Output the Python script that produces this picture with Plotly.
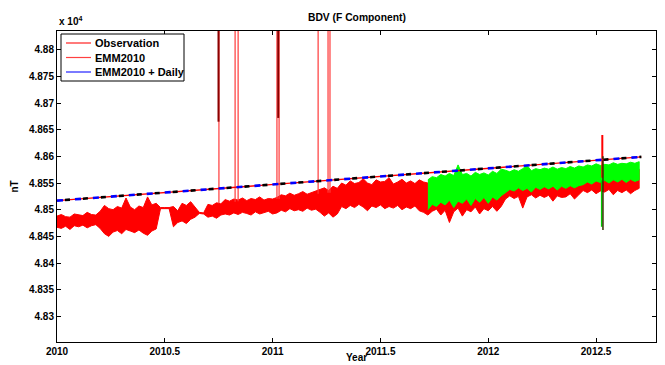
import plotly.graph_objects as go

# ---------------- data ----------------
obs_years = [round(2010.00 + 0.02 * i, 2) for i in range(136)]
obs_hi = [48488, 48491, 48487, 48486, 48492, 48490, 48489, 48495, 48491, 48490, 48497,
          48508, 48502, 48500, 48506, 48503, 48522, 48505, 48500, 48507, 48504, 48524, 48509, 48512,
          48504, 48504, 48504, 48506, 48498, 48512, 48508, 48515, 48504, 48495, 48494,
          48510, 48508, 48513, 48511, 48519, 48516, 48520, 48518, 48522, 48517, 48521, 48519,
          48524, 48518, 48521, 48520, 48523,
          48528, 48526, 48531, 48527, 48530, 48534, 48529, 48532, 48536,
          48538, 48541, 48536, 48544, 48540,
          48550, 48546, 48554, 48549, 48551, 48558, 48550, 48547, 48556, 48552, 48553, 48560,
          48548, 48552, 48557, 48550, 48554, 48549, 48556, 48552, 48550,
          48545, 48542, 48548, 48544, 48550, 48546, 48552, 48546, 48553, 48547, 48554, 48548,
          48556, 48549, 48557, 48550,
          48555, 48560, 48554, 48561, 48555, 48562, 48556, 48563, 48557, 48564, 48558, 48565,
          48559, 48566, 48560,
          48567, 48561, 48568, 48562, 48566, 48570, 48564, 48572, 48566, 48573, 48567, 48574,
          48568, 48575, 48569, 48576, 48570, 48576]
obs_lo = [48467, 48465, 48469, 48463, 48470, 48468, 48471, 48466, 48470, 48472, 48465,
          48455, 48450, 48458, 48461, 48455, 48463, 48460, 48457, 48462, 48456, 48452, 48460, 48464,
          48502, 48502, 48502, 48468, 48476, 48479, 48474, 48482, 48486, 48493, 48492,
          48486, 48488, 48484, 48490, 48492, 48490, 48494, 48491, 48495, 48493, 48490, 48496,
          48492, 48494, 48497, 48492, 48494,
          48499, 48496, 48502, 48498, 48500, 48497, 48503, 48499, 48501,
          48495, 48488, 48494, 48486, 48492,
          48506, 48502, 48508, 48504, 48510, 48505, 48498, 48507, 48504, 48509, 48502, 48506,
          48503, 48508, 48500, 48505, 48502, 48507, 48498, 48495, 48490,
          48497, 48501, 48490, 48499, 48476, 48496, 48503, 48488, 48500, 48496, 48505, 48492,
          48502, 48498, 48506, 48497,
          48506, 48520, 48526, 48521, 48525, 48503, 48524, 48528, 48522, 48527, 48523, 48527,
          48516, 48526, 48523,
          48524, 48530, 48520, 48528, 48536, 48532, 48537, 48530, 48535, 48533, 48538, 48528,
          48536, 48532, 48537, 48530, 48536, 48540]

green_years = [round(2011.72 + 0.02 * i, 2) for i in range(50)]
green_hi = [48556, 48562, 48560, 48566, 48563, 48568, 48564, 48584, 48566, 48568, 48563, 48570,
            48566, 48569, 48565, 48572, 48568, 48576,
            48574, 48571, 48575, 48572, 48577, 48583, 48573, 48577, 48575, 48578, 48576, 48580,
            48576, 48579, 48577, 48581, 48578, 48582,
            48580, 48584, 48582, 48586, 48583, 48585, 48584, 48588, 48585, 48587, 48586, 48589,
            48587, 48590]
green_lo = [48500, 48510, 48506, 48514, 48509, 48518, 48504, 48516, 48512, 48520, 48508, 48521,
            48514, 48523, 48512, 48524, 48518, 48526,
            48532, 48538, 48535, 48541, 48536, 48540, 48533, 48542, 48538, 48543, 48539, 48544,
            48537, 48544, 48540, 48545, 48541, 48545,
            48547, 48552, 48548, 48554, 48551, 48555, 48550, 48556, 48552, 48557, 48551, 48557,
            48553, 48556]

emm_years = [2010.0, 2010.5, 2011.0, 2011.5, 2012.0, 2012.5, 2012.71]
emm_values = [48517, 48532, 48547, 48562, 48577, 48592, 48599]

spike_years = [2010.751, 2010.826, 2010.840, 2011.020, 2011.030, 2011.211, 2011.257, 2011.266]
spike_base = [48512, 48515, 48516, 48520, 48520, 48530, 48532, 48532]
spike_top = 48900
dark_spike_years = [2010.749, 2011.026]
dark_spike_bottom = [48665, 48672]

storm_year = 2012.532
storm_red = [48560, 48640]
storm_dark = [48600, 48462]
storm_green = [48555, 48468]

legend_names = ["Observation", "EMM2010", "EMM2010 + Daily"]
legend_colors = ["#ff2020", "#ff4040", "#2020ff"]

y_tick_vals = [48300, 48350, 48400, 48450, 48500, 48550, 48600, 48650, 48700, 48750, 48800]
y_tick_text = ["4.83", "4.835", "4.84", "4.845", "4.85", "4.855", "4.86", "4.865", "4.87", "4.875", "4.88"]
x_tick_vals = [2010, 2010.5, 2011, 2011.5, 2012, 2012.5]
x_tick_text = ["2010", "2010.5", "2011", "2011.5", "2012", "2012.5"]

# ---------------- figure ----------------
FONT = "Liberation Sans, Arial, sans-serif"
fig = go.Figure()

fig.add_trace(go.Scatter(x=obs_years + obs_years[::-1], y=obs_hi + obs_lo[::-1],
                         fill="toself", fillcolor="#ff0000", mode="lines",
                         line=dict(color="#ff0000", width=1), name="Observation",
                         showlegend=False, hoverinfo="skip"))

sx, sy = [], []
for t, b in zip(spike_years, spike_base):
    sx += [t, t, None]
    sy += [b, spike_top, None]
fig.add_trace(go.Scatter(x=sx, y=sy, mode="lines", line=dict(color="#ff3838", width=1.2),
                         showlegend=False, hoverinfo="skip"))
dx, dy = [], []
for t, b in zip(dark_spike_years, dark_spike_bottom):
    dx += [t, t, None]
    dy += [b, spike_top, None]
fig.add_trace(go.Scatter(x=dx, y=dy, mode="lines", line=dict(color="#8b0000", width=2),
                         showlegend=False, hoverinfo="skip"))

fig.add_trace(go.Scatter(x=green_years + green_years[::-1], y=green_hi + green_lo[::-1],
                         fill="toself", fillcolor="#00ff00", mode="lines",
                         line=dict(color="#00ff00", width=1), showlegend=False,
                         hoverinfo="skip"))

fig.add_trace(go.Scatter(x=[storm_year - 0.003] * 2, y=storm_red, mode="lines",
                         line=dict(color="#ff0000", width=2), showlegend=False, hoverinfo="skip"))
fig.add_trace(go.Scatter(x=[storm_year - 0.006] * 2, y=storm_green, mode="lines",
                         line=dict(color="#00cc00", width=1.5), showlegend=False, hoverinfo="skip"))
fig.add_trace(go.Scatter(x=[storm_year] * 2, y=storm_dark, mode="lines",
                         line=dict(color="#333300", width=1.5), showlegend=False, hoverinfo="skip"))

fig.add_trace(go.Scatter(x=emm_years, y=emm_values, mode="lines", name="EMM2010",
                         line=dict(color="#ff0000", width=1.3), showlegend=False, hoverinfo="skip"))
fig.add_trace(go.Scatter(x=emm_years, y=emm_values, mode="lines", name="EMM2010 + Daily",
                         line=dict(color="#0000ff", width=2.6, dash="6px,12px"),
                         showlegend=False, hoverinfo="skip"))
fig.add_trace(go.Scatter(x=emm_years, y=emm_values, mode="lines",
                         line=dict(color="#000000", width=2.6, dash="0px,8px,5px,5px"),
                         showlegend=False, hoverinfo="skip"))

# ---- manual legend (compact, MATLAB style) ----
PX0, PW, PY1, PH = 57, 599, 342, 311
def px(x):
    return (x - PX0) / PW
def py(y):
    return (PY1 - y) / PH

shapes = [dict(type="rect", xref="paper", yref="paper", x0=px(61), x1=px(184),
               y0=py(81), y1=py(34), line=dict(color="black", width=1), fillcolor="white",
               layer="above")]
annotations = []
for i, (nm, col) in enumerate(zip(legend_names, legend_colors)):
    yc = 43 + 14.5 * i
    shapes.append(dict(type="line", xref="paper", yref="paper", x0=px(66), x1=px(91),
                       y0=py(yc), y1=py(yc), line=dict(color=col, width=1.2), layer="above"))
    annotations.append(dict(text=nm, x=px(93), y=py(yc), xref="paper", yref="paper",
                            xanchor="left", yanchor="middle", showarrow=False,
                            font=dict(family=FONT, size=11, color="black", weight="bold")))

annotations += [
    dict(text="BDV (F Component)", x=0.5, y=1, xref="paper", yref="paper",
         xanchor="center", yanchor="bottom", yshift=6, showarrow=False,
         font=dict(family=FONT, size=10.3, weight="bold")),
    dict(text="x 10<sup>4</sup>", x=0, y=1, xref="paper", yref="paper",
         xanchor="left", yanchor="bottom", yshift=2, showarrow=False,
         font=dict(family=FONT, size=10, weight="bold")),
    dict(text="Year", x=0.5, y=0, xref="paper", yref="paper",
         xanchor="center", yanchor="bottom", yshift=-23, showarrow=False,
         font=dict(family=FONT, size=10, weight="bold")),
]

axis_common = dict(showline=True, linecolor="black", linewidth=1, mirror="ticks",
                   ticks="inside", ticklen=4, tickcolor="black", showgrid=False,
                   zeroline=False, automargin=False,
                   tickfont=dict(family=FONT, size=10, color="black", weight="bold"))

fig.update_layout(
    width=665, height=365,
    margin=dict(l=57, r=9, t=31, b=23),
    paper_bgcolor="white", plot_bgcolor="white",
    font=dict(family=FONT, size=10, color="black", weight="bold"),
    xaxis=dict(range=[2010, 2012.778], tickvals=x_tick_vals, ticktext=x_tick_text,
               **axis_common),
    yaxis=dict(range=[48252, 48835], tickvals=y_tick_vals, ticktext=y_tick_text,
               title=dict(text="nT", standoff=8, font=dict(size=10, weight="bold")),
               **axis_common),
    showlegend=False,
    shapes=shapes,
    annotations=annotations,
)

fig.write_html("out.html")
